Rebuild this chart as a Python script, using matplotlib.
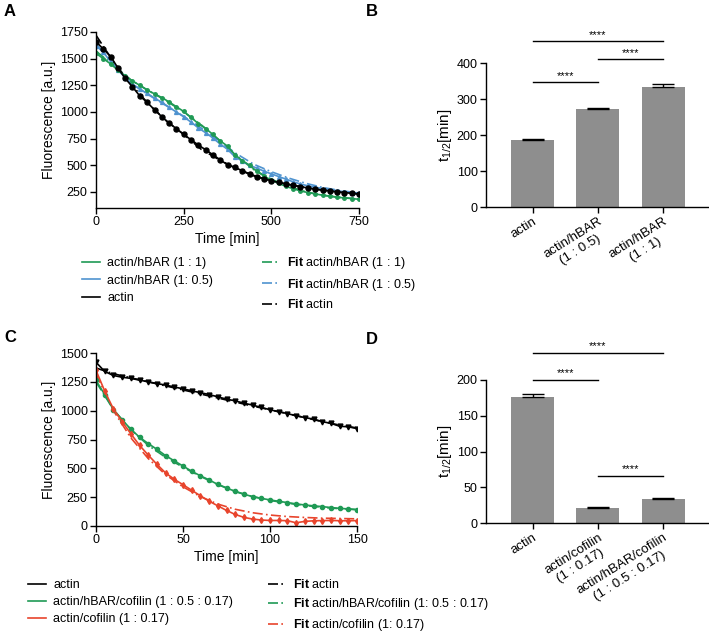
import matplotlib
matplotlib.use("Agg")
import matplotlib.pyplot as plt
from matplotlib.lines import Line2D
import numpy as np

plt.rcParams['font.family'] = ['Liberation Sans', 'DejaVu Sans']
plt.rcParams['mathtext.fontset'] = 'custom'
plt.rcParams['mathtext.rm'] = 'Liberation Sans'
plt.rcParams['mathtext.it'] = 'Liberation Sans:italic'
plt.rcParams['mathtext.bf'] = 'Liberation Sans:bold'

GREEN = '#1f9a55'
BLUE = '#4f93cf'
RED = '#e8442c'
BLACK = '#000000'
GREY = '#8e8e8e'

# ---------------- Panel A data ----------------
tA = [0, 21, 42, 63, 83, 104, 125, 146, 167, 188, 208, 229, 250, 271, 292, 313, 333, 354,
      375, 396, 417, 438, 458, 479, 500, 521, 542, 563, 583, 604, 625, 646, 667, 688, 708, 729, 750]
actinA = [1659, 1590, 1520, 1410, 1316, 1235, 1150, 1090, 1020, 955, 895, 845, 790, 740, 690,
          645, 600, 552, 505, 480, 450, 420, 395, 375, 355, 340, 326, 313, 300, 288, 277, 268,
          260, 252, 245, 238, 231]
hbar1A = [1550, 1500, 1450, 1390, 1340, 1290, 1250, 1205, 1170, 1135, 1095, 1050, 1005, 950,
          890, 845, 790, 730, 680, 600, 545, 500, 445, 400, 360, 330, 302, 280, 260, 245, 232,
          220, 212, 200, 195, 188, 182]
hbar05A = [1622, 1560, 1470, 1395, 1320, 1260, 1215, 1175, 1130, 1090, 1045, 1000, 955, 905,
           850, 805, 757, 700, 650, 580, 540, 500, 475, 445, 420, 395, 370, 345, 325, 308, 295,
           282, 272, 262, 252, 245, 238]
tfitA = [0, 50, 100, 150, 200, 250, 300, 350, 400, 450, 500, 550, 600, 650, 700, 750]
fit_actinA = [1720, 1470, 1260, 1075, 920, 790, 650, 555, 470, 400, 355, 320, 290, 266, 248, 232]
fit_hbar1A = [1570, 1440, 1300, 1200, 1105, 1000, 880, 740, 590, 460, 370, 300, 250, 218, 198, 185]
fit_hbar05A = [1640, 1450, 1270, 1160, 1060, 960, 850, 730, 610, 510, 440, 380, 330, 290, 262, 240]

# ---------------- Panel B data ----------------
catB = ['actin', 'actin/hBAR\n(1 : 0.5)', 'actin/hBAR\n(1 : 1)']
valB = [186, 271, 333]
errB = [2, 5, 10]

# ---------------- Panel C data ----------------
tC = [0, 5, 10, 15, 20, 25, 30, 35, 40, 45, 50, 55, 60, 65, 70, 75, 80, 85, 90, 95, 100,
      105, 110, 115, 120, 125, 130, 135, 140, 145, 150]
actinC = [1420, 1340, 1305, 1290, 1280, 1265, 1250, 1235, 1222, 1205, 1190, 1172, 1156, 1140,
          1120, 1100, 1085, 1065, 1048, 1028, 1008, 990, 975, 955, 940, 927, 905, 890, 865, 860, 845]
hbarcofC = [1262, 1140, 1010, 920, 840, 770, 715, 665, 610, 565, 520, 475, 435, 400, 360, 330,
            300, 275, 255, 240, 226, 214, 203, 192, 182, 175, 168, 160, 153, 148, 142]
cofC = [1350, 1170, 1015, 905, 800, 700, 615, 535, 460, 405, 358, 310, 262, 215, 175, 135, 100,
        75, 60, 52, 48, 48, 46, 28, 40, 45, 47, 48, 46, 45, 47]
tfitC = [0, 10, 20, 30, 40, 50, 60, 70, 80, 90, 100, 110, 120, 130, 140, 150]
fit_actinC = [1370, 1320, 1285, 1250, 1215, 1180, 1145, 1110, 1075, 1040, 1008, 975, 940, 905, 875, 850]
fit_hbarcofC = [1250, 1010, 835, 700, 595, 510, 430, 360, 300, 255, 222, 198, 178, 162, 150, 142]
fit_cofC = [1320, 1000, 765, 585, 445, 340, 255, 190, 145, 115, 95, 82, 74, 68, 65, 62]

# ---------------- Panel D data ----------------
catD = ['actin', 'actin/cofilin\n(1 : 0.17)', 'actin/hBAR/cofilin\n(1 : 0.5 : 0.17)']
valD = [176, 21, 34]
errD = [4, 1, 1]

W, H = 709, 636
fig = plt.figure(figsize=(W / 100, H / 100), dpi=100)


def rect(l, r, t, b):
    return [l / W, 1 - b / H, (r - l) / W, (b - t) / H]


def style(ax):
    for s in ['top', 'right']:
        ax.spines[s].set_visible(False)
    for s in ['left', 'bottom']:
        ax.spines[s].set_linewidth(1.0)
    ax.tick_params(direction='out', length=4, width=1, labelsize=9, pad=2)


FIT_DASH = (0, (6, 2, 1, 2))

# ---------- A ----------
axA = fig.add_axes(rect(96, 359, 32, 208))
style(axA)
axA.plot(tfitA, fit_hbar1A, color=GREEN, lw=1.2, ls=FIT_DASH)
axA.plot(tfitA, fit_hbar05A, color=BLUE, lw=1.2, ls=FIT_DASH)
axA.plot(tfitA, fit_actinA, color=BLACK, lw=1.2, ls=FIT_DASH)
axA.plot(tA, hbar05A, color=BLUE, lw=1.2, marker='^', ms=2.8)
axA.plot(tA, hbar1A, color=GREEN, lw=1.2, marker='o', ms=2.5)
axA.plot(tA, actinA, color=BLACK, lw=1.2, marker='o', ms=3.6)
axA.set_xlim(0, 750)
axA.set_ylim(100, 1750)
axA.set_xticks([0, 250, 500, 750])
axA.set_yticks([250, 500, 750, 1000, 1250, 1500, 1750])
axA.set_xlabel('Time [min]', fontsize=10, labelpad=3)
axA.set_ylabel('Fluorescence [a.u.]', fontsize=10, labelpad=3)
fig.text(4 / W, 1 - 12 / H, 'A', fontsize=12, fontweight='bold', va='center')

hA = [Line2D([], [], color=GREEN, lw=1.2), Line2D([], [], color=BLUE, lw=1.2),
      Line2D([], [], color=BLACK, lw=1.2),
      Line2D([], [], color=GREEN, lw=1.2, ls=FIT_DASH), Line2D([], [], color=BLUE, lw=1.2, ls=FIT_DASH),
      Line2D([], [], color=BLACK, lw=1.2, ls=FIT_DASH)]
lA = ['actin/hBAR (1 : 1)', 'actin/hBAR (1: 0.5)', 'actin',
      r'$\mathbf{Fit}$ actin/hBAR (1 : 1)', r'$\mathbf{Fit}$ actin/hBAR (1 : 0.5)', r'$\mathbf{Fit}$ actin']
fig.legend(hA, lA, ncol=2, loc='upper left', bbox_to_anchor=(82 / W, 1 - 255 / H), frameon=False,
           fontsize=9, handlelength=1.4, handletextpad=0.6, columnspacing=3.9, labelspacing=0.45,
           borderaxespad=0, borderpad=0)

# ---------- B ----------
axB = fig.add_axes(rect(486, 708, 63, 207))
style(axB)
xB = np.arange(len(catB))
axB.bar(xB, valB, width=0.66, color=GREY)
axB.errorbar(xB, valB, yerr=[[0] * 3, errB], fmt='none', ecolor='black', elinewidth=1, capsize=8, capthick=1)
axB.set_xlim(-0.72, 2.69)
axB.set_ylim(0, 400)
axB.set_yticks([0, 100, 200, 300, 400])
axB.set_xticks(xB)
axB.set_xticklabels(catB, rotation=32, ha='right', rotation_mode='anchor', multialignment='center', fontsize=9.5)
axB.set_ylabel(r't$_{1/2}$[min]', fontsize=11, labelpad=2)
fig.text(366 / W, 1 - 12 / H, 'B', fontsize=12, fontweight='bold', va='center')


def sig(ax, x0, x1, y, dy):
    ax.plot([x0, x1], [y, y], color='black', lw=1, clip_on=False)
    ax.text((x0 + x1) / 2, y + dy, '****', ha='center', va='bottom', fontsize=8, clip_on=False)


sig(axB, 0, 2, 461, 4)
sig(axB, 1, 2, 411, 4)
sig(axB, 0, 1, 347, 4)

# ---------- C ----------
axC = fig.add_axes(rect(96, 357, 353, 526))
style(axC)
axC.plot(tfitC, fit_actinC, color=BLACK, lw=1.2, ls=FIT_DASH)
axC.plot(tfitC, fit_hbarcofC, color=GREEN, lw=1.2, ls=FIT_DASH)
axC.plot(tfitC, fit_cofC, color=RED, lw=1.2, ls=FIT_DASH)
axC.plot(tC, actinC, color=BLACK, lw=1.2, marker='v', ms=3.5)
axC.plot(tC, hbarcofC, color=GREEN, lw=1.2, marker='o', ms=3)
axC.plot(tC, cofC, color=RED, lw=1.2, marker='d', ms=3)
axC.set_xlim(0, 150)
axC.set_ylim(0, 1500)
axC.set_xticks([0, 50, 100, 150])
axC.set_yticks([0, 250, 500, 750, 1000, 1250, 1500])
axC.set_xlabel('Time [min]', fontsize=10, labelpad=3)
axC.set_ylabel('Fluorescence [a.u.]', fontsize=10, labelpad=3)
fig.text(4 / W, 1 - 338 / H, 'C', fontsize=12, fontweight='bold', va='center')

hC = [Line2D([], [], color=BLACK, lw=1.2), Line2D([], [], color=GREEN, lw=1.2),
      Line2D([], [], color=RED, lw=1.2),
      Line2D([], [], color=BLACK, lw=1.2, ls=FIT_DASH), Line2D([], [], color=GREEN, lw=1.2, ls=FIT_DASH),
      Line2D([], [], color=RED, lw=1.2, ls=FIT_DASH)]
lC = ['actin', 'actin/hBAR/cofilin (1 : 0.5 : 0.17)', 'actin/cofilin (1 : 0.17)',
      r'$\mathbf{Fit}$ actin', r'$\mathbf{Fit}$ actin/hBAR/cofilin (1: 0.5 : 0.17)',
      r'$\mathbf{Fit}$ actin/cofilin (1: 0.17)']
fig.legend(hC, lC, ncol=2, loc='upper left', bbox_to_anchor=(28 / W, 1 - 578 / H), frameon=False,
           fontsize=9, handlelength=1.4, handletextpad=0.6, columnspacing=2.8, labelspacing=0.4,
           borderaxespad=0, borderpad=0)

# ---------- D ----------
axD = fig.add_axes(rect(486, 708, 380, 523))
style(axD)
xD = np.arange(len(catD))
axD.bar(xD, valD, width=0.66, color=GREY)
axD.errorbar(xD, valD, yerr=[[0] * 3, errD], fmt='none', ecolor='black', elinewidth=1, capsize=8, capthick=1)
axD.set_xlim(-0.72, 2.69)
axD.set_ylim(0, 200)
axD.set_yticks([0, 50, 100, 150, 200])
axD.set_xticks(xD)
axD.set_xticklabels(catD, rotation=32, ha='right', rotation_mode='anchor', multialignment='center', fontsize=9.5)
axD.set_ylabel(r't$_{1/2}$[min]', fontsize=11, labelpad=2)
fig.text(366 / W, 1 - 340 / H, 'D', fontsize=12, fontweight='bold', va='center')

sig(axD, 0, 2, 238, 2)
sig(axD, 0, 1, 200, 2)
sig(axD, 1, 2, 66, 2)

fig.savefig('out.png', dpi=100)
